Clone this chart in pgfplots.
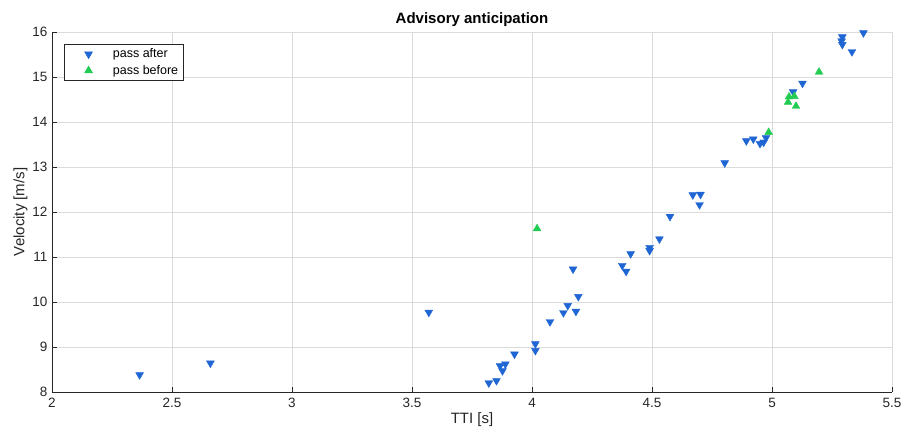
\documentclass[border=0pt]{standalone}
\usepackage{pgfplots}
\pgfplotsset{compat=1.18}
\usepackage{fontspec}
\setmainfont{Liberation Sans}
\definecolor{mblue}{RGB}{31,102,212}
\definecolor{mgreen}{RGB}{34,204,82}
\definecolor{axgray}{RGB}{38,38,38}
\begin{document}
\begin{tikzpicture}
\path[use as bounding box] (-52pt,-49pt) rectangle (852pt,392pt);
\begin{axis}[
  at={(0,0)}, anchor=south west,
  scale only axis, width=840pt, height=360pt,
  xmin=2, xmax=5.5, ymin=8, ymax=16,
  xtick={2,2.5,3,3.5,4,4.5,5,5.5},
  ytick={8,9,10,11,12,13,14,15,16},
  axis x line*=bottom, axis y line*=left,
  axis line style={axgray, line width=0.8pt},
  grid=major, grid style={black!14, line width=0.6pt},
  tick align=inside, major tick length=5pt,
  tick style={axgray, line width=0.8pt},
  /pgf/number format/assume math mode=true,
  ticklabel style={font=\fontsize{13.5}{16}\selectfont, text=axgray},
  xticklabel style={yshift=-3pt},
  yticklabel style={xshift=-1pt},
  xlabel={TTI [s]}, ylabel={Velocity [m/s]},
  label style={font=\fontsize{15}{18}\selectfont, text=axgray},
  xlabel style={yshift=2pt},
  ylabel style={yshift=-2pt},
  title={Advisory anticipation},
  title style={font=\fontsize{15}{18}\selectfont\bfseries, yshift=-4pt},
  legend style={at={(0,1)}, anchor=north west, xshift=12pt, yshift=-12pt,
    font=\fontsize{12.5}{15}\selectfont, draw=axgray, line width=0.6pt,
    inner xsep=3pt, inner ysep=2.5pt, row sep=2pt},
  legend image code/.code={\path (0pt,0pt) (43pt,0pt); \draw[#1] plot coordinates {(21pt,0pt)};},
  legend cell align=left,
]
\addplot[only marks, mark=triangle*, mark size=4.5pt, mark options={rotate=180, fill=mblue, draw=mblue}] coordinates {
(2.365,8.38) (2.66,8.64) (3.57,9.77) (3.82,8.20) (3.852,8.25) (3.867,8.58)
(3.889,8.62) (3.877,8.47) (3.927,8.84) (4.014,9.07) (4.014,8.92) (4.075,9.56)
(4.131,9.76) (4.149,9.92) (4.183,9.79) (4.193,10.12) (4.171,10.73) (4.376,10.81)
(4.392,10.68) (4.411,11.07) (4.49,11.21) (4.49,11.14) (4.531,11.40) (4.575,11.90)
(4.670,12.38) (4.702,12.39) (4.698,12.16) (4.803,13.09) (4.893,13.58) (4.922,13.62)
(4.95,13.52) (4.965,13.55) (4.975,13.65) (5.088,14.67) (5.127,14.86) (5.293,15.89)
(5.29,15.80) (5.293,15.72) (5.333,15.56) (5.381,15.98)
};
\addlegendentry{pass after}
\addplot[only marks, mark=triangle*, mark size=4.5pt, mark options={fill=mgreen, draw=mgreen}] coordinates {
(4.021,11.63) (4.986,13.77) (5.067,14.44) (5.071,14.56) (5.093,14.57) (5.10,14.35) (5.196,15.11)
};
\addlegendentry{pass before}
\end{axis}
\end{tikzpicture}
\end{document}
